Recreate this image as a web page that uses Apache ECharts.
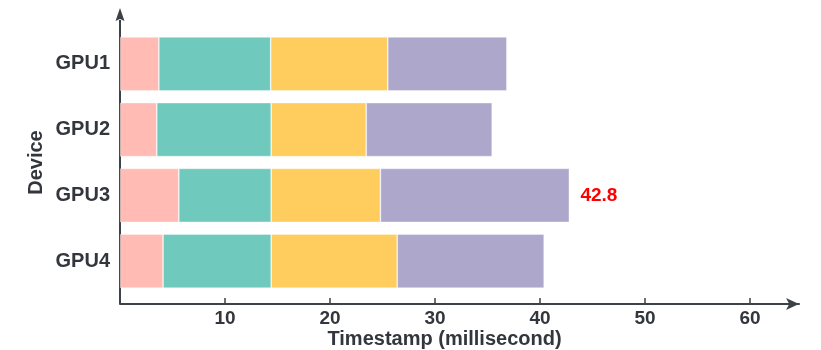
<!DOCTYPE html>
<html>
<head>
<meta charset="utf-8">
<script src="https://cdn.jsdelivr.net/npm/echarts@6/dist/echarts.min.js"></script>
<style>
  html, body { margin: 0; padding: 0; background: #ffffff; }
  #chart { width: 821px; height: 350px; }
</style>
</head>
<body>
<div id="chart"></div>
<script>
// Per-device timeline, each bar split into four consecutive stages (ms)
const devices = ['GPU1', 'GPU2', 'GPU3', 'GPU4'];
const stage1 = [3.7, 3.5, 5.6, 4.1];
const stage2 = [10.65, 10.9, 8.8, 10.3];
const stage3 = [11.15, 9.05, 10.4, 12.0];
const stage4 = [11.35, 12.0, 18.0, 14.0];
const xTicks = [10, 20, 30, 40, 50, 60];
const annotatedDevice = 'GPU3';

const stageColors = ['#ffbbb4', '#6fc9bd', '#fecd5d', '#ada7cb'];
const textColor = '#33373d';
const axisColor = '#3d4248';
const fontFamily = '"Liberation Sans", Arial, sans-serif';

// Plot area
const gridLeft = 120, gridTop = 31, gridBottom = 56, gridRight = 22;
const xAxisOffset = 10;
const chartH = 350;
const axisY = chartH - gridBottom + xAxisOffset;

const chart = echarts.init(document.getElementById('chart'), null, { renderer: 'canvas' });

const stages = [stage1, stage2, stage3, stage4];
const totals = devices.map((d, i) => stages.reduce((s, arr) => s + arr[i], 0));

const series = stages.map((vals, k) => ({
  name: 'stage' + (k + 1),
  type: 'bar',
  stack: 'timeline',
  barWidth: 54,
  z: 3,
  itemStyle: {
    color: stageColors[k],
    borderColor: 'rgba(255,255,255,0.45)',
    borderWidth: 0.8
  },
  data: vals.map((v, i) => {
    const item = { value: v };
    if (k === stages.length - 1 && devices[i] === annotatedDevice) {
      item.label = {
        show: true,
        position: 'right',
        distance: 11,
        formatter: () => totals[i].toFixed(1),
        color: '#ff0000',
        fontSize: 19,
        fontWeight: 'bold',
        fontFamily: fontFamily
      };
    }
    return item;
  })
}));

chart.setOption({
  animation: false,
  backgroundColor: '#ffffff',
  grid: {
    left: gridLeft, right: gridRight, top: gridTop, bottom: gridBottom,
    containLabel: false,
    outerBoundsMode: 'none'
  },
  xAxis: {
    type: 'value',
    min: 0,
    max: 64.67,
    offset: xAxisOffset,
    name: 'Timestamp (millisecond)',
    nameLocation: 'middle',
    nameGap: 25,
    nameMoveOverlap: false,
    nameTextStyle: {
      color: textColor, fontSize: 20, fontWeight: 'bold', fontFamily: fontFamily,
      padding: [0, 30, 0, 0]
    },
    axisLine: {
      show: true,
      symbol: ['none', 'arrow'],
      symbolSize: [9, 13],
      lineStyle: { color: axisColor, width: 2 }
    },
    axisTick: {
      show: true,
      inside: true,
      length: 6,
      customValues: xTicks,
      lineStyle: { color: axisColor, width: 1.5 }
    },
    axisLabel: {
      customValues: xTicks,
      margin: 5,
      color: textColor,
      fontSize: 19,
      fontWeight: 'bold',
      fontFamily: fontFamily
    },
    splitLine: { show: false }
  },
  yAxis: {
    type: 'category',
    data: devices,
    inverse: true,
    name: 'Device',
    nameLocation: 'middle',
    nameRotate: 90,
    nameGap: 74,
    nameMoveOverlap: false,
    nameTextStyle: { color: textColor, fontSize: 20, fontWeight: 'bold', fontFamily: fontFamily },
    axisLine: { show: false },
    axisTick: { show: false },
    axisLabel: {
      margin: 10,
      color: textColor,
      fontSize: 20,
      fontWeight: 'bold',
      fontFamily: fontFamily
    },
    splitLine: { show: false }
  },
  // Vertical axis line with arrow head, running past the category bands
  graphic: [
    {
      type: 'line',
      z: 1,
      shape: { x1: gridLeft, y1: axisY, x2: gridLeft, y2: 20 },
      style: { stroke: axisColor, lineWidth: 2 }
    },
    {
      type: 'polygon',
      z: 1,
      shape: { points: [[gridLeft, 8], [gridLeft - 4.5, 21], [gridLeft, 19], [gridLeft + 4.5, 21]] },
      style: { fill: axisColor }
    }
  ],
  series: series
});
</script>
</body>
</html>
